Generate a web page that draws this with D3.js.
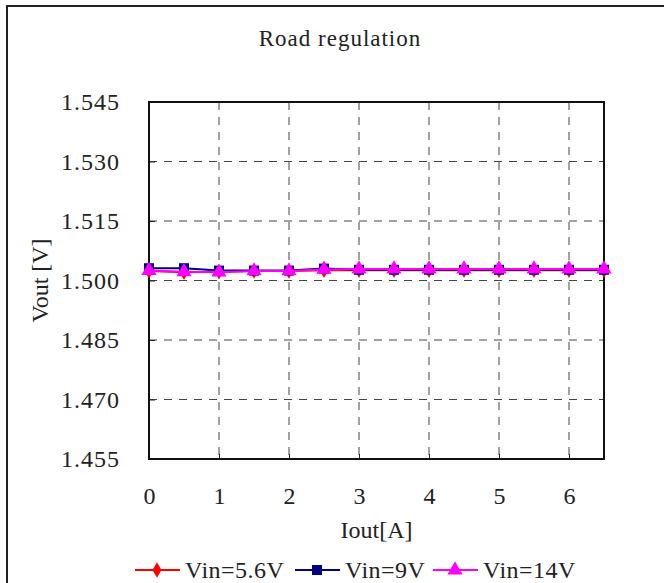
<!DOCTYPE html>
<html>
<head>
<meta charset="utf-8">
<script src="https://cdn.jsdelivr.net/npm/d3@7"></script>
<style>
  body { margin: 0; background: #fff; }
  text { font-family: "Liberation Serif", "DejaVu Serif", serif; fill: #222; }
</style>
</head>
<body>
<script>
const iout = [0, 0.5, 1, 1.5, 2, 2.5, 3, 3.5, 4, 4.5, 5, 5.5, 6, 6.5];
const vin56 = [1.5024, 1.5021, 1.5022, 1.5024, 1.5024, 1.5026, 1.5026, 1.5026, 1.5026, 1.5026, 1.5026, 1.5026, 1.5026, 1.5026];
const vin9 = [1.5031, 1.5031, 1.5025, 1.5025, 1.5025, 1.5030, 1.5027, 1.5027, 1.5027, 1.5027, 1.5027, 1.5027, 1.5027, 1.5027];
const vin14 = [1.5025, 1.5022, 1.5021, 1.5024, 1.5024, 1.5028, 1.5029, 1.5029, 1.5029, 1.5029, 1.5029, 1.5029, 1.5029, 1.5029];
const xTicks = [0, 1, 2, 3, 4, 5, 6];
const yTicks = [1.455, 1.470, 1.485, 1.500, 1.515, 1.530, 1.545];

const series = [
  { name: 'Vin=5.6V', values: vin56, color: '#ff0000', marker: 'diamond' },
  { name: 'Vin=9V', values: vin9, color: '#000080', marker: 'square' },
  { name: 'Vin=14V', values: vin14, color: '#ff00ff', marker: 'triangle' },
];

const width = 664, height = 583;
const plot = { left: 149, top: 102, right: 604, bottom: 459 };

const svg = d3.select('body').append('svg')
  .attr('width', width)
  .attr('height', height);

// outer frame, runs past the window on the right and bottom
svg.append('rect')
  .attr('x', 7).attr('y', 6)
  .attr('width', 800).attr('height', 800)
  .attr('fill', 'none')
  .attr('stroke', '#222')
  .attr('stroke-width', 2);

const x = d3.scaleLinear()
  .domain([0, 6.5])
  .range([plot.left, plot.right]);

const y = d3.scaleLinear()
  .domain([1.455, 1.545])
  .range([plot.bottom, plot.top]);

svg.append('text')
  .attr('x', 340)
  .attr('y', 46)
  .attr('text-anchor', 'middle')
  .style('font-size', '23px')
  .style('letter-spacing', '1px')
  .text('Road regulation');

// grid
const grid = svg.append('g').attr('class', 'grid');
grid.selectAll('.vgrid')
  .data(xTicks.filter(d => d > 0))
  .enter().append('line')
  .attr('class', 'vgrid')
  .attr('x1', d => x(d)).attr('x2', d => x(d))
  .attr('y1', plot.top).attr('y2', plot.bottom)
  .attr('stroke', '#444')
  .attr('stroke-width', 1)
  .attr('stroke-dasharray', '8,7');

grid.selectAll('.hgrid')
  .data(yTicks.filter(d => d > 1.455 && d < 1.545))
  .enter().append('line')
  .attr('class', 'hgrid')
  .attr('x1', plot.left).attr('x2', plot.right)
  .attr('y1', d => y(d)).attr('y2', d => y(d))
  .attr('stroke', '#444')
  .attr('stroke-width', 1)
  .attr('stroke-dasharray', '8,7');

// axes
const xAxis = d3.axisBottom(x)
  .tickValues(xTicks)
  .tickSize(-5)
  .tickPadding(28)
  .tickFormat(d3.format('d'));

const yAxis = d3.axisLeft(y)
  .tickValues(yTicks)
  .tickSize(-6)
  .tickPadding(29)
  .tickFormat(d3.format('.3f'));

const gx = svg.append('g')
  .attr('transform', `translate(0,${plot.bottom})`)
  .call(xAxis);
const gy = svg.append('g')
  .attr('transform', `translate(${plot.left},0)`)
  .call(yAxis);

[gx, gy].forEach(g => {
  g.select('.domain').remove();
  g.selectAll('.tick line').attr('stroke', '#222');
  g.selectAll('.tick text')
    .style('font-size', '24px')
    .style('font-family', '"Liberation Serif", serif')
    .attr('fill', '#222');
});
gy.selectAll('.tick text').style('letter-spacing', '1px');

svg.append('rect')
  .attr('x', plot.left).attr('y', plot.top)
  .attr('width', plot.right - plot.left)
  .attr('height', plot.bottom - plot.top)
  .attr('fill', 'none')
  .attr('stroke', '#111')
  .attr('stroke-width', 2);

svg.append('text')
  .attr('x', (plot.left + plot.right) / 2)
  .attr('y', 538)
  .attr('text-anchor', 'middle')
  .style('font-size', '24px')
  .text('Iout[A]');

svg.append('text')
  .attr('transform', `translate(48,${(plot.top + plot.bottom) / 2}) rotate(-90)`)
  .attr('text-anchor', 'middle')
  .style('font-size', '24px')
  .text('Vout [V]');

// markers
const symbolOf = {
  diamond: d3.symbol().type(d3.symbolDiamond).size(70),
  square: d3.symbol().type(d3.symbolSquare).size(100),
  triangle: d3.symbol().type(d3.symbolTriangle).size(100),
};

const line = d3.line()
  .x((d, i) => x(iout[i]))
  .y(d => y(d));

const layers = svg.append('g').attr('class', 'series');
series.forEach(s => {
  const g = layers.append('g');
  g.append('path')
    .attr('d', line(s.values))
    .attr('fill', 'none')
    .attr('stroke', s.color)
    .attr('stroke-width', 2);
  g.selectAll('path.mark')
    .data(s.values)
    .enter().append('path')
    .attr('class', 'mark')
    .attr('transform', (d, i) => `translate(${x(iout[i])},${y(d)})`)
    .attr('d', symbolOf[s.marker]())
    .attr('fill', s.color);
});

// legend
const legendX = [135, 295, 433];
const legend = svg.append('g').attr('class', 'legend');
series.forEach((s, i) => {
  const g = legend.append('g')
    .attr('transform', `translate(${legendX[i]},570)`);
  g.append('line')
    .attr('x1', 0).attr('x2', 45)
    .attr('stroke', s.color)
    .attr('stroke-width', 2);
  g.append('path')
    .attr('transform', 'translate(22,0)')
    .attr('d', symbolOf[s.marker]())
    .attr('fill', s.color);
  g.append('text')
    .attr('x', 50)
    .attr('y', 8)
    .style('font-size', '24px')
    .style('letter-spacing', '0.5px')
    .text(s.name);
});
</script>
</body>
</html>
